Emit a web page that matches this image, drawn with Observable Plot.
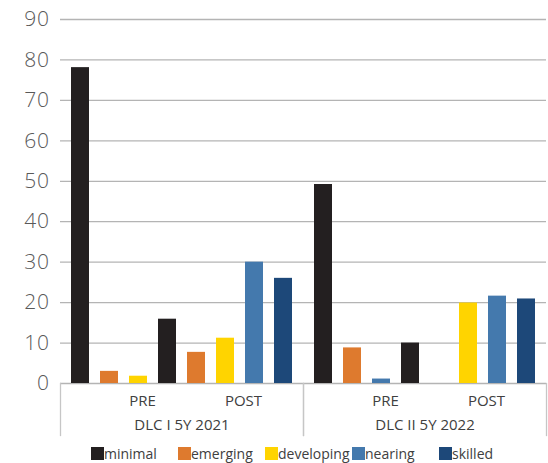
<!DOCTYPE html>
<html>
<head>
<meta charset="utf-8">
<script src="https://cdn.jsdelivr.net/npm/d3@7"></script>
<script src="https://cdn.jsdelivr.net/npm/@observablehq/plot@0.6"></script>
<style>
  html, body { margin: 0; padding: 0; background: #fff; }
  #wrap { position: relative; width: 548px; height: 463px; font-family: "Open Sans", sans-serif; }
  #legend { position: absolute; left: 91px; top: 447px; display: flex; }
  #legend .item { width: 87px; display: flex; align-items: center; height: 13px; font-size: 14px; color: #404040; line-height: 13px; }
  #legend .sw { width: 13px; height: 13px; flex: none; }
  .yax text { letter-spacing: 0.6px; }
</style>
</head>
<body>
<div id="wrap">
  <div id="chart"></div>
  <div id="legend"></div>
</div>
<script>
// Skill levels and their colours
const levels = ["minimal", "emerging", "developing", "nearing", "skilled"];
const levelColors = ["#231f20", "#de7a2e", "#ffd400", "#4479ad", "#1d4879"];

// Cohorts (outer category) and assessment phases (inner category)
const groups = ["DLC I 5Y 2021", "DLC II 5Y 2022"];
const phases = ["PRE", "POST"];
const phaseSlots = [2, 5];        // slot each phase label sits over

// Bars per cohort, in drawing order
const levels2021 = ["minimal", "emerging", "developing", "minimal", "emerging", "developing", "nearing", "skilled"];
const values2021 = [78.1, 3.0, 1.8, 15.9, 7.7, 11.2, 30.0, 26.0];
const levels2022 = ["minimal", "emerging", "nearing", "minimal", "emerging", "developing", "nearing", "skilled"];
const values2022 = [49.2, 8.8, 1.1, 10.0, 0, 19.9, 21.6, 20.9];

const yTicks = [0, 10, 20, 30, 40, 50, 60, 70, 80, 90];

const bars = [
  ...values2021.map((v, i) => ({group: groups[0], slot: i, level: levels2021[i], value: v})),
  ...values2022.map((v, i) => ({group: groups[1], slot: i, level: levels2022[i], value: v}))
];
const phaseLabels = groups.flatMap(g => phases.map((p, j) => ({group: g, slot: phaseSlots[j], label: p})));

const labelStyle = {fx: "group", x: "slot", text: "label", frameAnchor: "bottom", lineAnchor: "top",
  dy: 12, fontSize: 15, fill: "#404040"};

const chart = Plot.plot({
  width: 548,
  height: 442,
  marginTop: 19,
  marginBottom: 59,
  marginLeft: 60,
  marginRight: 2,
  style: {fontFamily: "'Open Sans', sans-serif", background: "#fff"},
  fx: {domain: groups, padding: 0, axis: null},
  x: {domain: d3.range(8), paddingInner: 0.38, paddingOuter: 0.357, axis: null},
  y: {domain: [0, 90], axis: null},
  color: {domain: levels, range: levelColors},
  marks: [
    Plot.gridY(yTicks, {stroke: "#b4b4b4", strokeOpacity: 1, strokeWidth: 1.3}),
    Plot.axisY(yTicks, {tickSize: 0, tickPadding: 11, fontSize: 21, fontWeight: 300, color: "#595959",
      label: null, tickFormat: d => d, className: "yax"}),
    Plot.barY(bars, {fx: "group", x: "slot", y: "value", fill: "level"}),
    // category-axis separators below the baseline
    Plot.frame({anchor: "left", insetTop: 364, insetBottom: -52, stroke: "#c6c6c6", strokeWidth: 1.3}),
    Plot.frame({anchor: "right", insetTop: 364, insetBottom: -52, stroke: "#c6c6c6", strokeWidth: 1.3}),
    Plot.text(phaseLabels.filter(d => d.label === "PRE"), {...labelStyle, dx: 4}),
    Plot.text(phaseLabels.filter(d => d.label === "POST"), {...labelStyle, dx: 18}),
    Plot.text(groups, {fx: d => d, text: d => d, frameAnchor: "bottom", lineAnchor: "top", dy: 35.5,
      fontSize: 15, fill: "#404040"})
  ]
});
document.getElementById("chart").appendChild(chart);

// Legend with fixed-width entries
const legend = document.getElementById("legend");
levels.forEach((lv, i) => {
  const item = document.createElement("div");
  item.className = "item";
  const sw = document.createElement("span");
  sw.className = "sw";
  sw.style.background = levelColors[i];
  const tx = document.createElement("span");
  tx.textContent = lv;
  item.appendChild(sw);
  item.appendChild(tx);
  legend.appendChild(item);
});
</script>
</body>
</html>
